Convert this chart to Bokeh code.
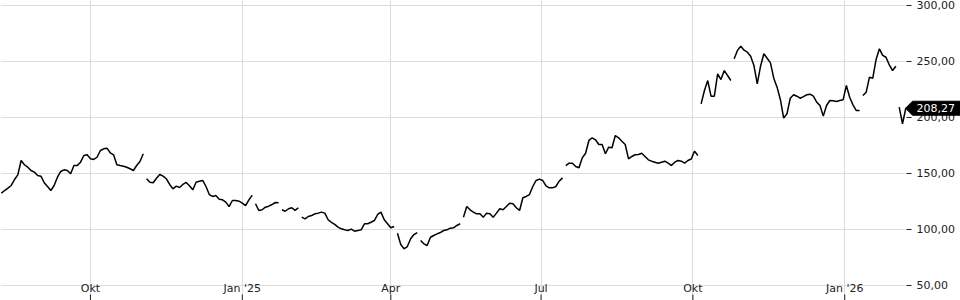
import numpy as np
import pandas as pd
from bokeh.plotting import figure
from bokeh.models import Range1d, FixedTicker, ColumnDataSource
from bokeh.embed import file_html
from bokeh.resources import INLINE
from bokeh.core.properties import value

# ---------------- data ----------------
start_date = "2024-08-08"
step = "2D"
close = [
    132.4, 134.8, 136.9, 139.3, 144.6, 148.8, 161.6, 157.8, 155.6, 152.7,
    151.2, 148.2, 147.6, 141.7, 138.4, 134.8, 139.3, 146.7, 151.8, 153.3,
    152.7, 149.7, 157.1, 157.1, 160.1, 166.1, 166.7, 163.1, 162.5, 164.5,
    170.5, 172.0, 172.6, 168.5, 166.7, 157.8, 157.1, 156.5, 155.6, 154.2,
    152.7, 157.1, 160.7, 167.6, 145.3, 142.2, 141.7, 145.8, 149.1, 147.6,
    145.3, 140.2, 136.3, 138.7, 137.5, 140.2, 142.0, 139.0, 135.4, 142.2,
    143.1, 143.8, 138.4, 131.2, 129.5, 130.3, 127.0, 126.5, 124.4, 120.5,
    125.9, 125.9, 125.3, 123.5, 121.4, 126.5, 130.6, 123.0, 117.0, 117.6,
    119.9, 120.8, 122.3, 124.1, 123.8, 117.6, 116.3, 118.5, 119.4, 117.0,
    119.4, 111.0, 109.5, 111.6, 112.5, 114.0, 114.6, 115.5, 114.6, 108.7,
    106.3, 104.5, 102.1, 100.6, 99.7, 99.1, 100.3, 98.5, 99.0, 99.7,
    105.1, 105.1, 106.5, 108.0, 113.4, 115.5, 108.7, 105.1, 101.5, 102.7,
    96.7, 86.6, 82.8, 84.8, 91.7, 95.5, 97.3, 90.2, 87.2, 85.7,
    93.1, 94.6, 96.1, 97.3, 99.1, 99.7, 101.2, 101.5, 103.6, 105.1,
    111.0, 120.5, 117.6, 115.5, 114.0, 114.0, 111.0, 114.6, 114.0, 111.0,
    114.6, 118.5, 117.6, 120.5, 123.5, 123.0, 119.4, 117.0, 128.3, 129.5,
    131.2, 138.4, 143.8, 145.0, 143.8, 139.0, 137.2, 137.2, 138.4, 143.1,
    146.1, 157.1, 159.2, 159.2, 156.2, 155.1, 164.0, 168.1, 179.5, 181.9,
    180.1, 175.9, 175.9, 167.6, 173.5, 173.0, 183.9, 181.9, 178.8, 175.9,
    163.1, 165.2, 166.7, 166.9, 168.1, 165.2, 162.2, 161.0, 160.1, 159.2,
    160.1, 161.0, 159.2, 157.1, 160.1, 161.6, 161.0, 159.2, 161.6, 162.9,
    170.0, 166.1, 212.2, 224.1, 233.0, 219.0, 219.0, 239.0, 233.9, 241.9,
    237.5, 233.0, 252.4, 259.8, 263.7, 260.1, 258.3, 254.7, 246.4, 230.1,
    245.8, 256.9, 252.9, 248.8, 235.1, 227.1, 216.1, 199.4, 203.3, 217.2,
    220.3, 219.0, 217.2, 218.7, 220.3, 220.8, 219.0, 213.7, 210.7, 201.2,
    210.7, 215.2, 214.9, 214.3, 215.2, 215.8, 228.6, 218.1, 211.3, 206.2,
    206.2, 219.6, 222.6, 236.0, 235.1, 251.8, 261.3, 255.4, 253.8, 247.0,
    241.9, 245.8, 209.2, 194.4, 208.27,
]
# the line is interrupted after these points
breaks_after = [43, 76, 84, 90, 119, 126, 139, 170, 211, 221, 260, 271]

tick_dates = ["2024-10-01", "2025-01-01", "2025-04-01", "2025-07-01",
              "2025-10-01", "2026-01-01"]
tick_labels = ["Okt", "Jan '25", "Apr", "Jul", "Okt", "Jan '26"]
y_ticks = [50, 100, 150, 200, 250, 300]

# ---------------- layout constants ----------------
W, H = 960, 300
PLOT_RIGHT = 905          # right edge of the price area, px
Y_TOP, Y_BOT = 304.46, 36.6
PX_PER_DAY = 1.6505
X0 = pd.Timestamp("2024-08-07 12:00")


def y_at_px(py):
    return Y_TOP - (Y_TOP - Y_BOT) * py / H


def x_at_px(px):
    return X0 + pd.Timedelta(days=px / PX_PER_DAY)


def fmt(v):
    return f"{v:.2f}".replace(".", ",")


dates = pd.date_range(start_date, periods=len(close), freq=step)
xs, ys = [], []
for i, (d, v) in enumerate(zip(dates, close)):
    xs.append(d)
    ys.append(v)
    if i in breaks_after:
        xs.append(d + pd.Timedelta(days=1))
        ys.append(np.nan)
src = ColumnDataSource(dict(x=xs, y=np.array(ys, dtype=float)))

p = figure(width=W, height=H, x_axis_type="datetime",
           x_axis_location=None, y_axis_location=None,
           x_range=Range1d(X0, x_at_px(W)), y_range=Range1d(Y_BOT, Y_TOP),
           output_backend="svg", toolbar_location=None,
           min_border_left=0, min_border_right=0, min_border_top=0, min_border_bottom=0)
p.outline_line_color = None
p.background_fill_color = "white"
p.border_fill_color = "white"

tick_x = pd.to_datetime(tick_dates)
p.xgrid.ticker = FixedTicker(ticks=[t.value / 1e6 for t in tick_x])
p.xgrid.grid_line_color = "#dcdcdc"
p.ygrid.grid_line_color = None

# horizontal grid lines over the price area only
n = len(y_ticks)
p.segment(x0=[x_at_px(0)] * n, x1=[x_at_px(PLOT_RIGHT)] * n, y0=y_ticks, y1=y_ticks,
          line_color="#dcdcdc", line_width=1)

# price line
p.line(x="x", y="y", source=src, line_color="black", line_width=1.5)

# x labels and ticks
lab_src = ColumnDataSource(dict(x=tick_x, y=[y_at_px(287.5)] * len(tick_x), text=tick_labels))
p.text(x="x", y="y", text="text", source=lab_src, text_font=value("DejaVu Sans"),
       text_font_size="11px", text_align="center", text_baseline="middle",
       text_color="#222222")
p.segment(x0=tick_x, y0=[y_at_px(294)] * len(tick_x), x1=tick_x,
          y1=[y_at_px(300)] * len(tick_x), line_color="#222222", line_width=1)

# y axis (right) ticks and labels
p.segment(x0=[x_at_px(906)] * n, x1=[x_at_px(911)] * n, y0=y_ticks, y1=y_ticks,
          line_color="#222222", line_width=1)
ylab = ColumnDataSource(dict(x=[x_at_px(916)] * n, y=y_ticks, text=[fmt(v) for v in y_ticks]))
p.text(x="x", y="y", text="text", source=ylab, text_font=value("DejaVu Sans"),
       text_font_size="11px", text_align="left", text_baseline="middle",
       text_color="#222222")

# last price tag
last = close[-1]
half = (Y_TOP - Y_BOT) * 7 / H
p.patch(x=[x_at_px(905), x_at_px(912), x_at_px(W), x_at_px(W), x_at_px(912)],
        y=[last, last + half, last + half, last - half, last - half],
        fill_color="black", line_color="black")
p.text(x=[x_at_px(916)], y=[last], text=[fmt(last)], text_font=value("DejaVu Sans"),
       text_font_size="11px", text_align="left", text_baseline="middle",
       text_color="white")

open("out.html", "w").write(file_html(p, INLINE))
